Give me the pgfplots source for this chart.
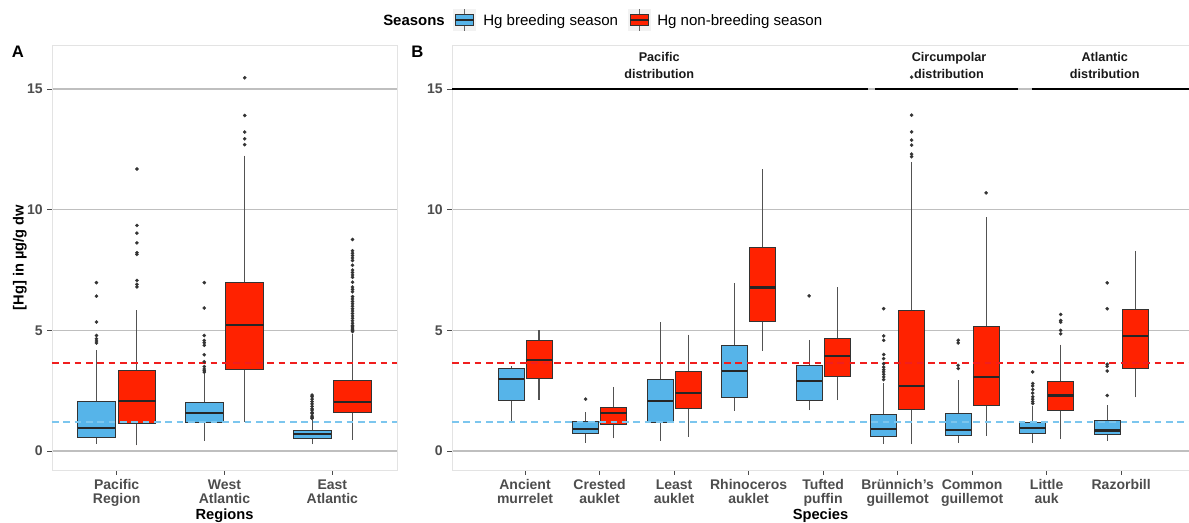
\documentclass[border=0pt]{standalone}
\usepackage{fontspec}
\setmainfont{Liberation Sans}
\usepackage{pgfplots}
\pgfplotsset{compat=1.18}
\usepgfplotslibrary{statistics}
\definecolor{hgblue}{HTML}{56B4E9}
\definecolor{hgred}{HTML}{FF2200}
\definecolor{boxline}{HTML}{333333}
\definecolor{ticktext}{HTML}{4D4D4D}
\definecolor{dashblue}{HTML}{7CC6EE}
\definecolor{dashred}{HTML}{F01E1E}

\pgfplotsset{
  hgcommon/.style={draw=boxline, line width=0.6pt, mark=*, mark size=1.25pt,
    mark options={draw=black!80, fill=black!80, line width=0.2pt},
    boxplot/draw direction=y,
    boxplot/whisker extend=0,
    boxplot/every whisker/.style={draw=black!68, line width=0.8pt},
    boxplot/every median/.style={draw=black!85, line width=1.6pt}},
  hgb/.style={boxplot prepared={#1, box extend=0.35}, fill=hgblue, hgcommon},
  hgr/.style={boxplot prepared={#1, box extend=0.35}, fill=hgred, hgcommon},
  hgaxis/.style={scale only axis, anchor=south west,
    ymin=-0.787, ymax=16.83, ytick={0,5,10,15},
    ymajorgrids, grid style={gray!50, line width=1pt},
    axis line style={draw=gray!22, line width=0.6pt},
    tick align=outside, tick pos=left, major tick length=3.5pt,
    tick style={draw=gray!60!black, line width=0.6pt},
    ticklabel style={font=\fontsize{10.5}{10.5}\selectfont\bfseries, text=ticktext},
    xticklabel style={align=center},
    /pgf/number format/assume math mode=true,
    every axis x label/.style={at={(rel axis cs:0.5,-0.1153)}, anchor=base, font=\fontsize{11}{11}\selectfont\bfseries},
  },
}

\begin{document}
\begin{tikzpicture}
% ---------------- Panel A ----------------
\begin{axis}[hgaxis, at={(39pt,39pt)}, width=258.75pt, height=318.75pt,
  xmin=0.4, xmax=3.6, xtick={1,2,3},
  xticklabels={{Pacific\\Region},{West\\Atlantic},{East\\Atlantic}},
  xlabel={Regions}, ylabel={[Hg] in µg/g dw},
  every axis y label/.style={at={(rel axis cs:-0.0928,0.5)}, rotate=90, anchor=center, font=\fontsize{11}{11}\selectfont\bfseries}]
\addplot[hgb={draw position=0.8125, lower whisker=0.30, lower quartile=0.58, median=0.94, upper quartile=2.07, upper whisker=4.17}]
  table[row sep=\\, y index=0] {4.48\\4.56\\4.65\\4.79\\5.35\\6.42\\6.98\\};
\addplot[hgr={draw position=1.1875, lower whisker=0.23, lower quartile=1.13, median=2.07, upper quartile=3.36, upper whisker=5.83}]
  table[row sep=\\, y index=0] {6.80\\6.91\\7.07\\8.15\\8.22\\8.63\\9.03\\9.35\\11.69\\};
\addplot[hgb={draw position=1.8125, lower whisker=0.41, lower quartile=1.20, median=1.59, upper quartile=2.03, upper whisker=3.20}]
  table[row sep=\\, y index=0] {3.27\\3.33\\3.40\\3.50\\3.70\\3.99\\4.38\\4.49\\4.58\\4.79\\5.93\\6.98\\};
\addplot[hgr={draw position=2.1875, lower whisker=1.20, lower quartile=3.38, median=5.22, upper quartile=7.00, upper whisker=12.24}]
  table[row sep=\\, y index=0] {12.70\\12.94\\13.22\\13.91\\15.47\\};
\addplot[hgb={draw position=2.8125, lower whisker=0.28, lower quartile=0.54, median=0.69, upper quartile=0.86, upper whisker=1.27}]
  table[row sep=\\, y index=0] {1.35\\1.40\\1.45\\1.55\\1.60\\1.70\\1.75\\1.85\\1.95\\2.05\\2.15\\2.25\\2.32\\};
\addplot[hgr={draw position=3.1875, lower whisker=0.47, lower quartile=1.60, median=2.03, upper quartile=2.91, upper whisker=4.86}]
  table[row sep=\\, y index=0] {4.95\\5.00\\5.05\\5.10\\5.15\\5.20\\5.30\\5.40\\5.50\\5.60\\5.70\\5.80\\5.90\\6.00\\6.10\\6.20\\6.30\\6.40\\6.60\\6.70\\6.80\\7.00\\7.20\\7.30\\7.40\\7.50\\7.70\\7.90\\8.00\\8.10\\8.20\\8.30\\8.77\\};
\addplot[dashred, line width=0.9pt, dash pattern=on 5pt off 3.5pt] coordinates {(0.4,3.65) (3.6,3.65)};
\addplot[dashblue, line width=0.9pt, dash pattern=on 5pt off 3.5pt] coordinates {(0.4,1.20) (3.6,1.20)};
\end{axis}

% ---------------- Panel B ----------------
\begin{axis}[hgaxis, at={(339pt,39pt)}, width=552.75pt, height=318.75pt,
  xmin=0.02, xmax=9.91, xtick={1,...,9},
  xticklabels={{Ancient\\murrelet},{Crested\\auklet},{Least\\auklet},{Rhinoceros\\auklet},{Tufted\\puffin},{Brünnich's\\guillemot},{Common\\guillemot},{Little\\auk},{Razorbill}},
  xlabel={Species}]
% black header segments over the 15 gridline
\addplot[black, line width=1.3pt] coordinates {(0.02,15) (5.6,15)};
\addplot[black, line width=1.3pt] coordinates {(5.7,15) (7.62,15)};
\addplot[black, line width=1.3pt] coordinates {(7.8,15) (9.91,15)};
% Ancient murrelet
\addplot[hgb={draw position=0.8125, lower whisker=1.18, lower quartile=2.08, median=2.99, upper quartile=3.43, upper whisker=3.51}] coordinates {};
\addplot[hgr={draw position=1.1875, lower whisker=2.11, lower quartile=2.99, median=3.76, upper quartile=4.59, upper whisker=5.00}] coordinates {};
% Crested auklet
\addplot[hgb={draw position=1.8125, lower whisker=0.34, lower quartile=0.72, median=0.91, upper quartile=1.23, upper whisker=1.60}]
  table[row sep=\\, y index=0] {2.15\\};
\addplot[hgr={draw position=2.1875, lower whisker=0.52, lower quartile=1.09, median=1.56, upper quartile=1.80, upper whisker=2.66}] coordinates {};
% Least auklet
\addplot[hgb={draw position=2.8125, lower whisker=0.41, lower quartile=1.18, median=2.07, upper quartile=2.96, upper whisker=5.34}] coordinates {};
\addplot[hgr={draw position=3.1875, lower whisker=0.59, lower quartile=1.75, median=2.41, upper quartile=3.29, upper whisker=4.82}] coordinates {};
% Rhinoceros auklet
\addplot[hgb={draw position=3.8125, lower whisker=1.67, lower quartile=2.22, median=3.31, upper quartile=4.39, upper whisker=6.97}] coordinates {};
\addplot[hgr={draw position=4.1875, lower whisker=4.15, lower quartile=5.36, median=6.78, upper quartile=8.44, upper whisker=11.67}] coordinates {};
% Tufted puffin
\addplot[hgb={draw position=4.8125, lower whisker=1.68, lower quartile=2.08, median=2.92, upper quartile=3.54, upper whisker=4.61}]
  table[row sep=\\, y index=0] {6.43\\};
\addplot[hgr={draw position=5.1875, lower whisker=2.11, lower quartile=3.11, median=3.95, upper quartile=4.67, upper whisker=6.78}] coordinates {};
% Bruennich's guillemot
\addplot[hgb={draw position=5.8125, lower whisker=0.30, lower quartile=0.61, median=0.90, upper quartile=1.50, upper whisker=2.80}]
  table[row sep=\\, y index=0] {2.96\\3.07\\3.18\\3.28\\3.37\\3.48\\3.62\\3.83\\4.00\\4.59\\4.77\\5.90\\};
\addplot[hgr={draw position=6.1875, lower whisker=0.29, lower quartile=1.72, median=2.70, upper quartile=5.83, upper whisker=11.99}]
  table[row sep=\\, y index=0] {12.20\\12.31\\12.68\\12.89\\13.23\\13.92\\15.50\\};
% Common guillemot
\addplot[hgb={draw position=6.8125, lower whisker=0.34, lower quartile=0.63, median=0.87, upper quartile=1.57, upper whisker=2.93}]
  table[row sep=\\, y index=0] {3.42\\3.55\\4.48\\4.59\\};
\addplot[hgr={draw position=7.1875, lower whisker=0.63, lower quartile=1.90, median=3.06, upper quartile=5.15, upper whisker=9.68}]
  table[row sep=\\, y index=0] {10.70\\};
% Little auk
\addplot[hgb={draw position=7.8125, lower whisker=0.32, lower quartile=0.74, median=0.94, upper quartile=1.20, upper whisker=1.85}]
  table[row sep=\\, y index=0] {1.97\\2.05\\2.15\\2.25\\2.40\\2.55\\2.70\\2.80\\3.28\\};
\addplot[hgr={draw position=8.1875, lower whisker=0.48, lower quartile=1.68, median=2.30, upper quartile=2.87, upper whisker=4.41}]
  table[row sep=\\, y index=0] {4.86\\5.00\\5.34\\5.41\\5.66\\};
% Razorbill
\addplot[hgb={draw position=8.8125, lower whisker=0.41, lower quartile=0.69, median=0.85, upper quartile=1.28, upper whisker=1.90}]
  table[row sep=\\, y index=0] {2.30\\3.32\\3.51\\3.60\\5.90\\6.97\\};
\addplot[hgr={draw position=9.1875, lower whisker=2.22, lower quartile=3.44, median=4.75, upper quartile=5.87, upper whisker=8.30}] coordinates {};
\addplot[dashred, line width=0.9pt, dash pattern=on 5pt off 3.5pt] coordinates {(0.02,3.65) (9.91,3.65)};
\addplot[dashblue, line width=0.9pt, dash pattern=on 5pt off 3.5pt] coordinates {(0.02,1.20) (9.91,1.20)};
% distribution headers
\node[font=\fontsize{9.5}{12.5}\selectfont\bfseries, text=black!90, align=center] at (axis cs:2.80,15.98) {Pacific\\distribution};
\node[font=\fontsize{9.5}{12.5}\selectfont\bfseries, text=black!90, align=center] at (axis cs:6.69,15.98) {Circumpolar\\distribution};
\node[font=\fontsize{9.5}{12.5}\selectfont\bfseries, text=black!90, align=center] at (axis cs:8.78,15.98) {Atlantic\\distribution};
\end{axis}

% panel tags
\node[font=\fontsize{12.5}{13}\selectfont\bfseries] at (13.5pt,352.5pt) {A};
\node[font=\fontsize{12.5}{13}\selectfont\bfseries] at (313pt,352.5pt) {B};

% legend
\node[anchor=base west, inner sep=0, font=\fontsize{11.2}{12}\selectfont\bfseries] at (287.25pt,372.5pt) {Seasons};
\fill[gray!10] (339.75pt,368pt) rectangle (357pt,385pt);
\draw[black!60, line width=0.6pt] (348.4pt,368.5pt) -- (348.4pt,384.5pt);
\draw[fill=hgblue, draw=boxline, line width=0.6pt] (341.5pt,372.4pt) rectangle (355.3pt,380.6pt);
\draw[black!85, line width=1.2pt] (341.5pt,376.5pt) -- (355.3pt,376.5pt);
\node[anchor=base west, inner sep=0, font=\fontsize{11.3}{12}\selectfont] at (362.25pt,372.5pt) {Hg breeding season};
\fill[gray!10] (471pt,368pt) rectangle (488.25pt,385pt);
\draw[black!60, line width=0.6pt] (479.6pt,368.5pt) -- (479.6pt,384.5pt);
\draw[fill=hgred, draw=boxline, line width=0.6pt] (472.7pt,372.4pt) rectangle (486.5pt,380.6pt);
\draw[black!85, line width=1.2pt] (472.7pt,376.5pt) -- (486.5pt,376.5pt);
\node[anchor=base west, inner sep=0, font=\fontsize{11.3}{12}\selectfont] at (492.75pt,372.5pt) {Hg non-breeding season};

\pgfresetboundingbox
\path[use as bounding box] (0,0) rectangle (891.75pt,391.5pt);
\end{tikzpicture}
\end{document}
